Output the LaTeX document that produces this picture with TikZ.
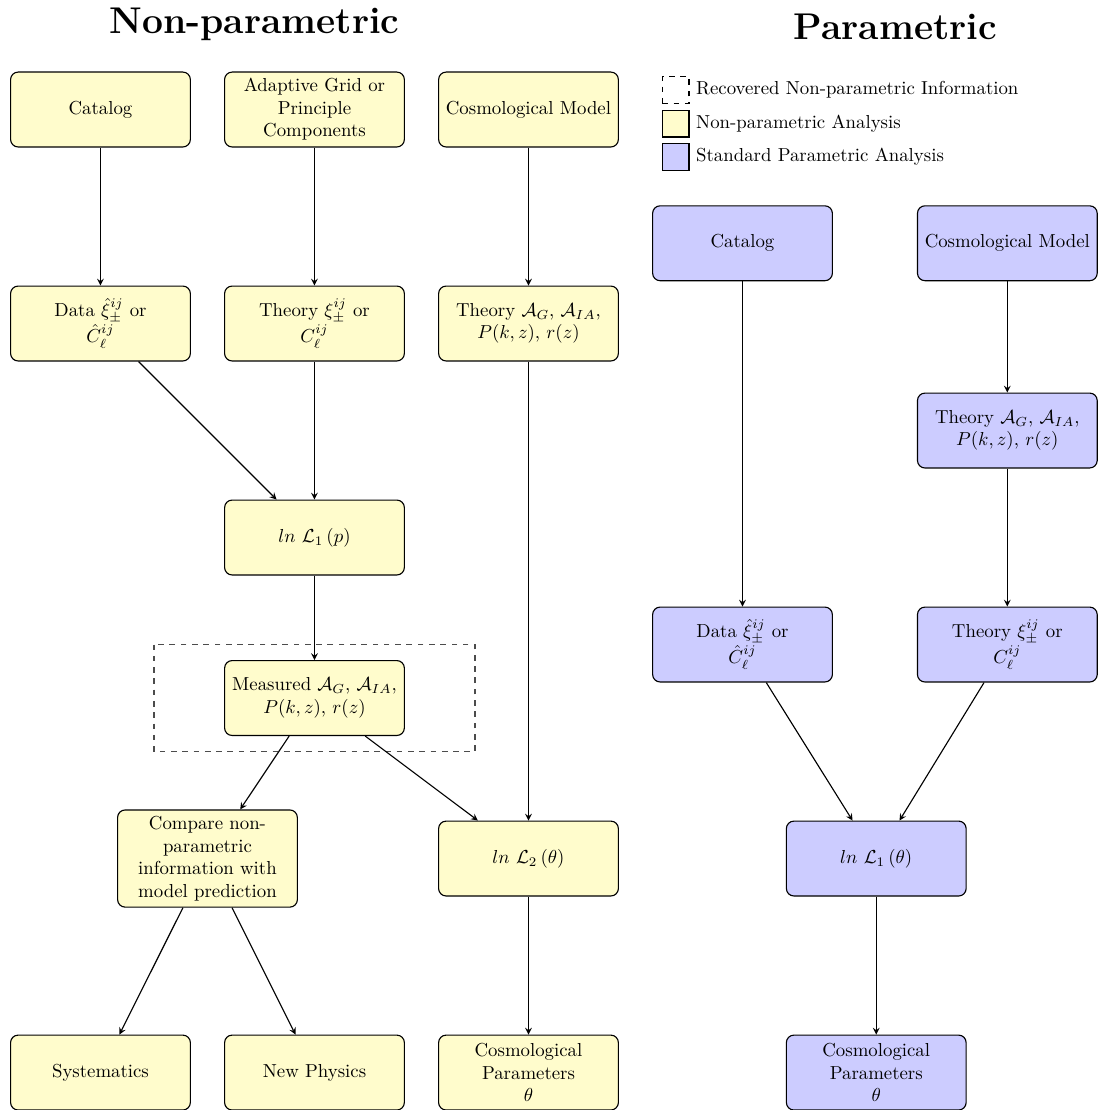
\documentclass[tikz,border=0pt]{standalone}
\usepackage{amsmath}
\usetikzlibrary{positioning}
\tikzset{
	npbox/.style={draw, semithick, rounded corners, fill=yellow!20, minimum width=3.36cm, minimum height=1.4cm, align=center},
	pbox/.style={npbox, fill=blue!20},
	keybox/.style={draw, semithick, minimum size=0.5cm, inner sep=0pt},
	flow/.style={-stealth, semithick}
}

\begin{document}
\begin{tikzpicture}
			%%%%% FRAME %%%%%
			\useasboundingbox (-1.878, 2.047) rectangle (18.645, -18.70);
			
			\node[anchor=base, font=\fontsize{19.8}{24}\selectfont\bfseries] (titleL) at (2.88, 1.43) {Non-parametric};
			\node[anchor=base, font=\fontsize{19.8}{24}\selectfont\bfseries] (titleR) at (14.86, 1.30) {Parametric};
			
			%%%%% KEY %%%%%
			\node[keybox, dashed] (keyrec) at (10.75, 0.365) {};
			\node[keybox, fill=yellow!20, below=0.107cm of keyrec] (keynp) {};
			\node[keybox, fill=blue!20, below=0.107cm of keynp] (keyp) {};
			\node[right=0pt of keyrec] (keyrectxt) {Recovered Non-parametric Information};
			\node[right=0pt of keynp] (keynptxt) {Non-parametric Analysis};
			\node[right=0pt of keyp] (keyptxt) {Standard Parametric Analysis};
			
			%%%%% NON-PARAMETRIC %%%%%
			\draw[semithick, dashed, color=black!70] (1, -10) rectangle (7, -12);
			
			\node[npbox] (catL) at (0, 0) {Catalog};
			\node[npbox] (gridL) at (4, 0) {Adaptive Grid or\\Principle\\Components};
			\node[npbox] (modelL) at (8, 0) {Cosmological Model};
			
			\node[npbox] (dataL) at (0, -4) {Data $\hat{\xi}^{ij}_{\pm}$ or\\$\hat{C}^{ij}_{\ell}$};
			\node[npbox] (theoL) at (4, -4) {Theory $\xi^{ij}_{\pm}$ or\\$C^{ij}_{\ell}$};
			\node[npbox] (theoAL) at (8, -4) {Theory $\mathcal{A}_G$, $\mathcal{A}_{IA}$,\\$P(k,z)$, $r(z)$};
			
			\node[npbox] (likeP) at (4, -8) {$ln\ \mathcal{L}_1\,(p)$};
			\node[npbox] (meas) at (4, -11) {Measured $\mathcal{A}_G$, $\mathcal{A}_{IA}$,\\$P(k,z)$, $r(z)$};
			
			\node[npbox] (compare) at (2, -14) {Compare non-\\parametric\\information with\\model prediction};
			\node[npbox] (likeL) at (8, -14) {$ln\ \mathcal{L}_2\,(\theta)$};
			
			\node[npbox] (sys) at (0, -18) {Systematics};
			\node[npbox] (newphys) at (4, -18) {New Physics};
			\node[npbox] (paramsL) at (8, -18) {Cosmological\\Parameters\\$\theta$};
			
			\draw[flow] (catL) -- (dataL);
			\draw[flow] (gridL) -- (theoL);
			\draw[flow] (modelL) -- (theoAL);
			\draw[flow] (dataL) -- (likeP);
			\draw[flow] (theoL) -- (likeP);
			\draw[flow] (likeP) -- (meas);
			\draw[flow] (meas) -- (compare);
			\draw[flow] (meas) -- (likeL);
			\draw[flow] (theoAL) -- (likeL);
			\draw[flow] (compare) -- (sys);
			\draw[flow] (compare) -- (newphys);
			\draw[flow] (likeL) -- (paramsL);
			
			%%%%% PARAMETRIC %%%%%
			\node[pbox] (catR) at (12, -2.5) {Catalog};
			\node[pbox] (modelR) at (16.95, -2.5) {Cosmological Model};
			\node[pbox] (theoAR) at (16.95, -6) {Theory $\mathcal{A}_G$, $\mathcal{A}_{IA}$,\\$P(k,z)$, $r(z)$};
			\node[pbox] (dataR) at (12, -10) {Data $\hat{\xi}^{ij}_{\pm}$ or\\$\hat{C}^{ij}_{\ell}$};
			\node[pbox] (theoR) at (16.95, -10) {Theory $\xi^{ij}_{\pm}$ or\\$C^{ij}_{\ell}$};
			\node[pbox] (likeR) at (14.5, -14) {$ln\ \mathcal{L}_1\,(\theta)$};
			\node[pbox] (paramsR) at (14.5, -18) {Cosmological\\Parameters\\$\theta$};
			
			\draw[flow] (catR) -- (dataR);
			\draw[flow] (modelR) -- (theoAR);
			\draw[flow] (theoAR) -- (theoR);
			\draw[flow] (dataR) -- (likeR);
			\draw[flow] (theoR) -- (likeR);
			\draw[flow] (likeR) -- (paramsR);
\end{tikzpicture}
\end{document}
